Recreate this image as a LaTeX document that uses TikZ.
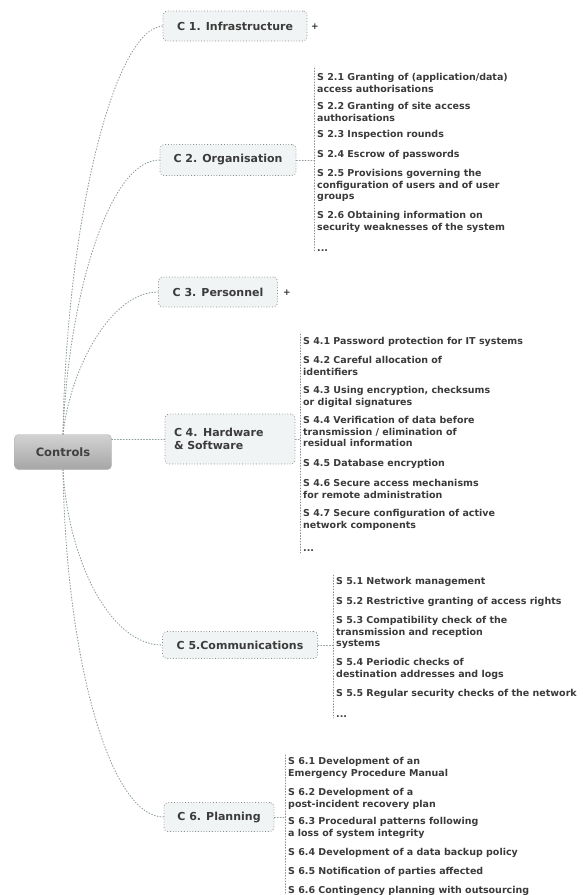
\documentclass[tikz,border=0pt]{standalone}
\usepackage{fontspec}
\setmainfont{DejaVu Sans}
\definecolor{linkgray}{HTML}{8E9C9C}
\definecolor{boxgray}{HTML}{8A8A8A}
\definecolor{boxfill}{HTML}{F1F4F4}
\definecolor{leaftext}{HTML}{3A3A3A}
\definecolor{topictext}{HTML}{3C3C3C}
\newcommand\leaffont{\fontsize{9.5}{11.5}\selectfont\bfseries}
\newcommand\topicfont{\fontsize{11}{13}\selectfont\bfseries}
\tikzset{
  conn/.style={draw=linkgray, line width=0.9pt, dotted, line cap=round},
  listline/.style={draw=boxgray, line width=0.8pt, dotted, line cap=round},
  topic/.style={draw=boxgray, dotted, line width=0.8pt, rounded corners=4pt,
    fill=boxfill, font=\topicfont, text=topictext, inner sep=0pt},
  rootbox/.style={draw=gray!60, rounded corners=4pt, top color=gray!35,
    bottom color=gray!70, font=\fontsize{11.5}{13}\selectfont\bfseries,
    text=black!75, minimum width=97pt, minimum height=35pt},
  leaf/.style={anchor=north west, align=left, font=\leaffont, text=leaftext,
    inner sep=0pt},
  plus/.style={font=\fontsize{9}{9}\selectfont\bfseries, text=black!80, inner sep=0pt},
}
\begin{document}
\begin{tikzpicture}[x=1pt,y=-1pt]
\useasboundingbox (0,0) rectangle (583,895);

% central topic
\node[rootbox] (ctrl) at (63,452) {Controls};

% main topics
\node[topic, minimum width=144pt, minimum height=30pt] (c1) at (235,26) {C 1. Infrastructure};
\node[topic, minimum width=136pt, minimum height=31pt] (c2) at (228,160) {C 2. Organisation};
\node[topic, minimum width=119pt, minimum height=30pt] (c3) at (218,292) {C 3. Personnel};
\node[topic, minimum width=130pt, minimum height=50pt, text width=112pt, align=left] (c4) at (230,439) {C 4. Hardware\\\& Software};
\node[topic, minimum width=155pt, minimum height=27pt] (c5) at (240,645) {C 5.Communications};
\node[topic, minimum width=110pt, minimum height=29pt] (c6) at (219,817) {C 6. Planning};

% collapsed markers
\node[plus] (p1) at (315,27) {+};
\node[plus] (p3) at (287,293) {+};

% branches from the central topic
\draw[conn] (ctrl.north) .. controls (66,230) and (112,30) .. (c1.west);
\draw[conn] (ctrl.north) .. controls (68,300) and (108,160) .. (c2.west);
\draw[conn] (ctrl.north) .. controls (70,370) and (110,292) .. (c3.west);
\draw[conn] (ctrl.east |- c4.west) -- (c4.west);
\draw[conn] (ctrl.south) .. controls (68,560) and (110,645) .. (c5.west);
\draw[conn] (ctrl.south) .. controls (66,660) and (110,817) .. (c6.west);

% C 2 sub-topics
\coordinate (l2t) at (314,68);
\coordinate (l2b) at (314,252);
\draw[listline] (l2t) -- (l2b);
\coordinate (l2m) at (314,160);
\draw[conn] (c2.east) -- (l2m);
\node[leaf] (s21) at (317,72.5) {\strut S 2.1 Granting of (application/data)\\access authorisations};
\node[leaf] (s22) at (317,101.5) {\strut S 2.2 Granting of site access\\authorisations};
\node[leaf] (s23) at (317,129.5) {\strut S 2.3 Inspection rounds};
\node[leaf] (s24) at (317,149.5) {\strut S 2.4 Escrow of passwords};
\node[leaf] (s25) at (317,168.5) {\strut S 2.5 Provisions governing the\\configuration of users and of user\\groups};
\node[leaf] (s26) at (317,210.5) {\strut S 2.6 Obtaining information on\\security weaknesses of the system};
\node[leaf] (s2x) at (317,243.5) {\strut ...};

% C 4 sub-topics
\coordinate (l4t) at (300,334);
\coordinate (l4b) at (300,553);
\draw[listline] (l4t) -- (l4b);
\coordinate (l4m) at (300,439);
\draw[conn] (c4.east) -- (l4m);
\node[leaf] (s41) at (303,336.5) {\strut S 4.1 Password protection for IT systems};
\node[leaf] (s42) at (303,355.5) {\strut S 4.2 Careful allocation of\\identifiers};
\node[leaf] (s43) at (303,385.5) {\strut S 4.3 Using encryption, checksums\\or digital signatures};
\node[leaf] (s44) at (303,415.5) {\strut S 4.4 Verification of data before\\transmission / elimination of\\residual information};
\node[leaf] (s45) at (303,458.5) {\strut S 4.5 Database encryption};
\node[leaf] (s46) at (303,478.5) {\strut S 4.6 Secure access mechanisms\\for remote administration};
\node[leaf] (s47) at (303,508.5) {\strut S 4.7 Secure configuration of active\\network components};
\node[leaf] (s4x) at (303,543.5) {\strut ...};

% C 5 sub-topics
\coordinate (l5t) at (333,575);
\coordinate (l5b) at (333,718);
\draw[listline] (l5t) -- (l5b);
\coordinate (l5m) at (333,645);
\draw[conn] (c5.east) -- (l5m);
\node[leaf] (s51) at (336,576.5) {\strut S 5.1 Network management};
\node[leaf] (s52) at (336,596.5) {\strut S 5.2 Restrictive granting of access rights};
\node[leaf] (s53) at (336,615.5) {\strut S 5.3 Compatibility check of the\\transmission and reception\\systems};
\node[leaf] (s54) at (336,657.5) {\strut S 5.4 Periodic checks of\\destination addresses and logs};
\node[leaf] (s55) at (336,688.5) {\strut S 5.5 Regular security checks of the network};
\node[leaf] (s5x) at (336,709.5) {\strut ...};

% C 6 sub-topics
\coordinate (l6t) at (285,755);
\coordinate (l6b) at (285,895);
\draw[listline] (l6t) -- (l6b);
\coordinate (l6m) at (285,817);
\draw[conn] (c6.east) -- (l6m);
\node[leaf] (s61) at (288,756.5) {\strut S 6.1 Development of an\\Emergency Procedure Manual};
\node[leaf] (s62) at (288,787.5) {\strut S 6.2 Development of a\\post-incident recovery plan};
\node[leaf] (s63) at (288,816.5) {\strut S 6.3 Procedural patterns following\\a loss of system integrity};
\node[leaf] (s64) at (288,847.5) {\strut S 6.4 Development of a data backup policy};
\node[leaf] (s65) at (288,866.5) {\strut S 6.5 Notification of parties affected};
\node[leaf] (s66) at (288,885.5) {\strut S 6.6 Contingency planning with outsourcing};
\end{tikzpicture}
\end{document}
